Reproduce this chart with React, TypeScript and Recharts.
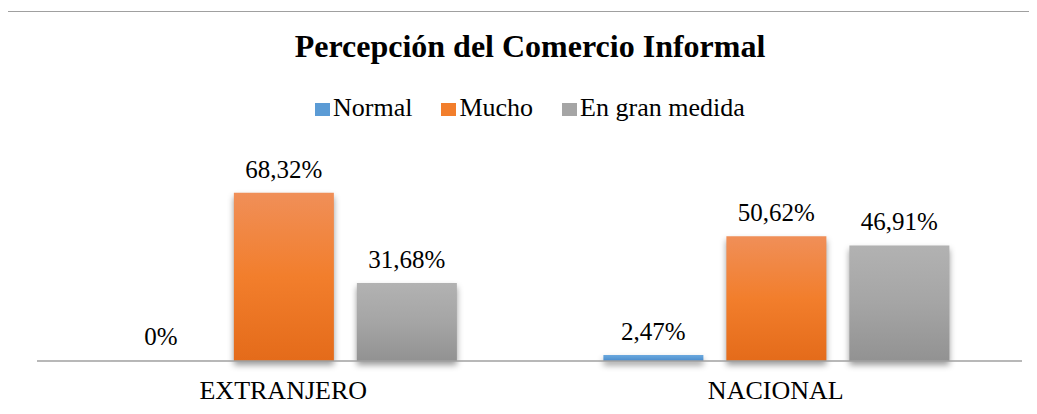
import { BarChart, Bar, XAxis, YAxis, LabelList, Cell } from 'recharts'

const categories = ['EXTRANJERO', 'NACIONAL']
const normal = [0, 2.47]
const mucho = [68.32, 50.62]
const granMedida = [31.68, 46.91]

const series = [
  { key: 'normal', name: 'Normal', color: '#5B9BD5', top: '#6CA9DF', bottom: '#4A8ACB', values: normal },
  { key: 'mucho', name: 'Mucho', color: '#F27E2C', top: '#F08F58', bottom: '#E46B1A', values: mucho },
  { key: 'granMedida', name: 'En gran medida', color: '#A5A5A5', top: '#B2B2B2', bottom: '#929292', values: granMedida },
]

const data = categories.map((c, i) => ({
  category: c,
  normal: normal[i],
  mucho: mucho[i],
  granMedida: granMedida[i],
}))

const serif = '"Liberation Serif", "Times New Roman", Times, serif'

const fmt = (v: any) => (Number(v) === 0 ? '0%' : Number(v).toFixed(2).replace('.', ',') + '%')

export default function App() {
  return (
    <div style={{ position: 'relative', width: 1037, height: 414, margin: -8, background: '#fff', overflow: 'hidden', fontFamily: serif }}>
      <div
        style={{
          position: 'absolute',
          left: 7,
          top: 11,
          width: 1100,
          height: 500,
          borderTop: '1.5px solid #a0a0a0',
          borderLeft: '1.5px solid #a0a0a0',
        }}
      />
      <div
        style={{
          position: 'absolute',
          left: 0,
          width: 1060,
          top: 28,
          textAlign: 'center',
          fontSize: 32,
          fontWeight: 'bold',
          fontFamily: serif,
          color: '#000',
        }}
      >
        Percepción del Comercio Informal
      </div>
      <div
        style={{
          position: 'absolute',
          left: 315,
          top: 93,
          display: 'flex',
          alignItems: 'baseline',
          fontSize: 26,
          fontFamily: serif,
          color: '#000',
          whiteSpace: 'nowrap',
        }}
      >
        {series.map((s) => (
          <span key={s.key} style={{ marginRight: 29 }}>
            <span style={{ display: 'inline-block', width: 15, height: 13, background: s.color, marginRight: 3 }} />
            {s.name}
          </span>
        ))}
      </div>
      <div style={{ position: 'absolute', left: 0, top: 0 }}>
        <BarChart
          width={1037}
          height={414}
          data={data}
          margin={{ top: 164, right: 15, bottom: 23, left: 37 }}
          barCategoryGap="15%"
          barGap={23}
        >
          <defs>
            {series.map((s) => (
              <linearGradient key={s.key} id={`g-${s.key}`} x1="0" y1="0" x2="0" y2="1">
                <stop offset="0%" stopColor={s.top} />
                <stop offset="50%" stopColor={s.color} />
                <stop offset="100%" stopColor={s.bottom} />
              </linearGradient>
            ))}
          </defs>
          <XAxis
            dataKey="category"
            axisLine={{ stroke: '#a0a0a0', strokeWidth: 1.5 }}
            tickLine={false}
            tickSize={0}
            tickMargin={20}
            tick={{ fill: '#000', fontSize: 26, fontFamily: serif }}
          />
          <YAxis hide domain={[0, 80]} />
          {series.map((s) => (
            <Bar
              key={s.key}
              dataKey={s.key}
              name={s.name}
              fill={`url(#g-${s.key})`}
              minPointSize={1}
              isAnimationActive={false}
              style={{ filter: 'drop-shadow(0px 4px 3px rgba(0,0,0,0.4))' }}
            >
              {s.values.map((v, i) => (
                <Cell key={i} fill={v === 0 ? 'rgba(0,0,0,0.04)' : `url(#g-${s.key})`} />
              ))}
              <LabelList
                dataKey={s.key}
                position="top"
                offset={15}
                formatter={fmt}
                fill="#000"
                fontSize={25}
                fontFamily={serif}
                style={{ fill: '#000', fontSize: 25, fontFamily: serif, filter: 'none' }}
              />
            </Bar>
          ))}
        </BarChart>
      </div>
    </div>
  )
}
